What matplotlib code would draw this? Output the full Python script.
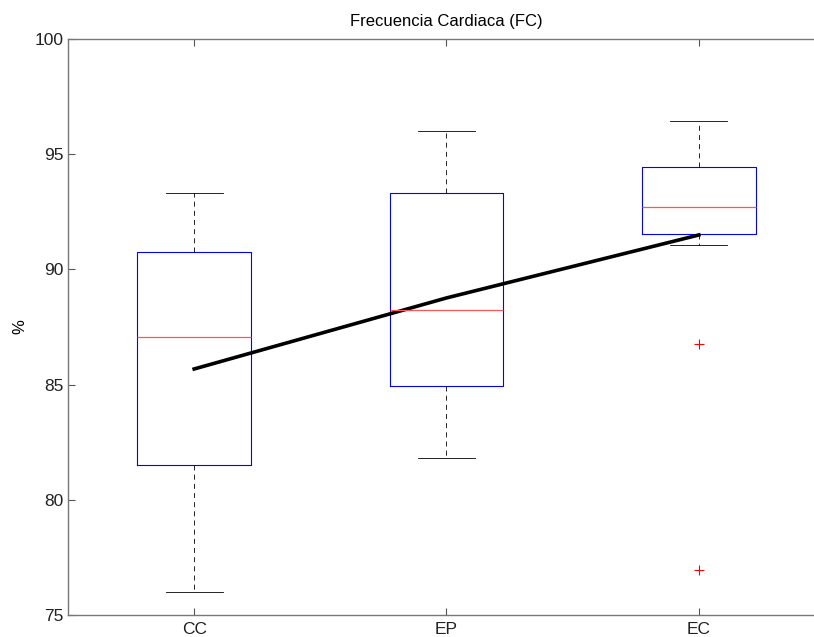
import matplotlib
matplotlib.use("Agg")
import matplotlib.pyplot as plt

plt.rcParams['font.family'] = ['Liberation Sans', 'DejaVu Sans']

groups = ['CC', 'EP', 'EC']
whislo = [76.0, 81.8, 91.06]
q1 = [81.5, 84.96, 91.54]
med = [87.07, 88.25, 92.7]
q3 = [90.75, 93.3, 94.44]
whishi = [93.3, 96.0, 96.44]
fliers = [[], [], [86.76, 76.95]]
means = [85.68, 88.76, 91.49]

stats = []
for i in range(len(groups)):
    stats.append({'label': groups[i], 'whislo': whislo[i], 'q1': q1[i],
                  'med': med[i], 'q3': q3[i], 'whishi': whishi[i],
                  'fliers': fliers[i]})

fig = plt.figure(figsize=(8.14, 6.37), dpi=100)
ax = fig.add_axes([68/814, 1 - 615.3/637, 757/814, 576.6/637])

pos = [1, 2, 3]
ax.bxp(stats, positions=pos, widths=0.45, showfliers=True,
       boxprops=dict(color='blue', linewidth=0.8),
       medianprops=dict(color='#ff5555', linewidth=0.9),
       whiskerprops=dict(color='black', linewidth=0.6, linestyle=(0, (6, 5))),
       capprops=dict(color='black', linewidth=0.6),
       capwidths=0.225,
       flierprops=dict(marker='+', markeredgecolor='red', markersize=7,
                       markeredgewidth=0.8, linestyle='none'))

ax.plot(pos, means, color='black', linewidth=2.6)

ax.set_xlim(0.5, 3.5)
ax.set_ylim(75, 100)
ax.set_yticks([75, 80, 85, 90, 95, 100])
ax.set_xticks(pos)
ax.set_xticklabels(groups)
ax.tick_params(direction='in', top=True, right=True, labelsize=12.5,
               length=5, width=0.8, color='#555555', colors='#222222')
ax.tick_params(axis='x', pad=5)
for s in ax.spines.values():
    s.set_color('#777777')
    s.set_linewidth(1.0)
ax.set_ylabel('%', fontsize=12, labelpad=5)
ax.set_title('Frecuencia Cardiaca (FC)', fontsize=12, pad=9)

fig.savefig('out.png', dpi=100)
